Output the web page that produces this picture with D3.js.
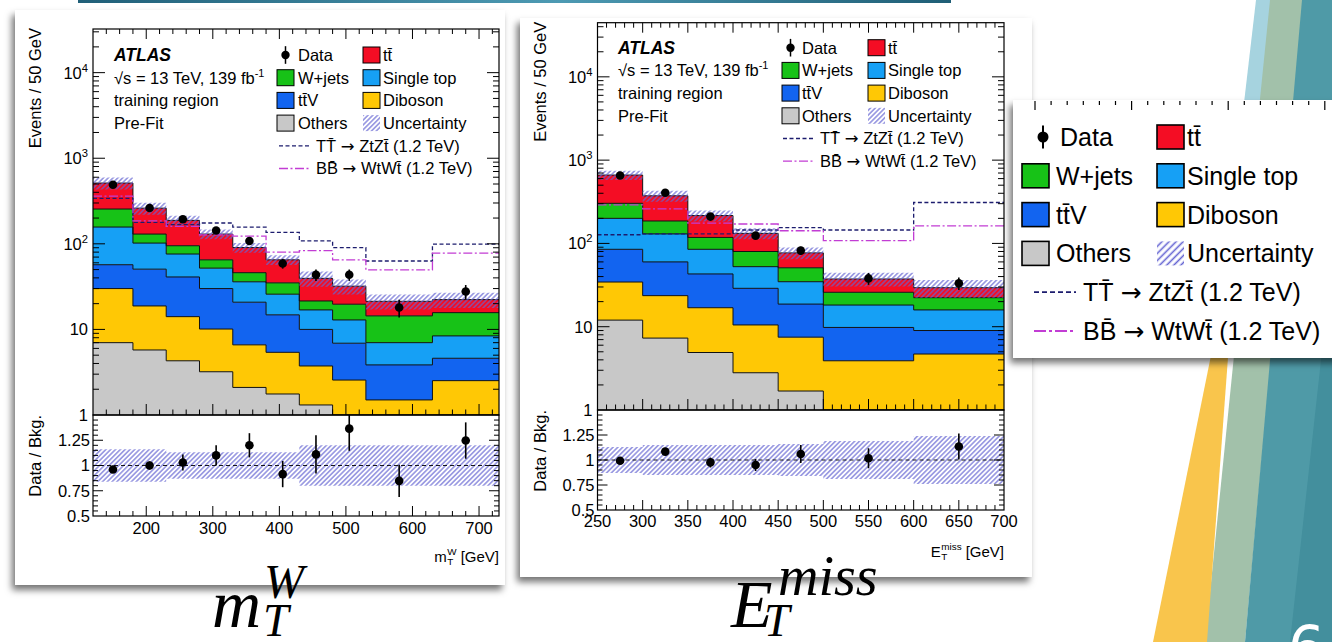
<!DOCTYPE html>
<html><head><meta charset="utf-8">
<script src="https://cdn.jsdelivr.net/npm/d3@7"></script>
<style>
html,body{margin:0;padding:0;background:#fff;overflow:hidden}
svg{display:block}
text{font-family:"Liberation Sans",Arial,Helvetica,sans-serif;fill:#000}
text.math{font-family:"Liberation Serif","Times New Roman",serif;font-style:italic}
tspan.arrow{font-family:"DejaVu Sans",sans-serif}
</style></head><body>
<svg id="slide" width="1332" height="642"></svg>
<script>
// ---------------- data: m_T^W distribution ----------------
const mtwEdges   = [120,180,230,280,330,380,430,480,530,630,730];
const mtwOthers  = [7.0, 5.75, 4.3, 3.2, 2.1, 1.76, 1.31, 0.6, 0.4, 0.5];
const mtwDiboson = [23.0, 13.05, 9.8, 6.9, 4.5, 3.64, 2.43, 1.96, 1.1, 2.02];
const mtwTtV     = [27.0, 31.8, 26.9, 19.9, 14.2, 9.4, 6.26, 4.34, 2.35, 2.08];
const mtwSingleT = [100, 51.4, 35, 22, 15.2, 11, 6.9, 6.0, 3.15, 3.8];
const mtwWjets   = [98, 28, 19, 13, 10, 9.2, 4.6, 6.8, 7.4, 7.3];
const mtwTtbar   = [258, 131, 93, 65, 44.5, 30, 18, 12.3, 6.9, 6.6];
const mtwData    = [490, 262, 194, 143, 108, 59, 43.5, 43.5, 18, 27.7];
const mtwDataErr = [22, 16, 14, 12, 10.4, 7.7, 6.6, 6.6, 4.2, 5.3];
const mtwUnc     = [0.16, 0.16, 0.13, 0.13, 0.13, 0.13, 0.2, 0.2, 0.2, 0.2];
const mtwRatio   = [0.96, 1.0, 1.03, 1.10, 1.20, 0.915, 1.11, 1.365, 0.848, 1.247];
const mtwRatioErr= [0.03, 0.04, 0.08, 0.1, 0.12, 0.13, 0.19, 0.22, 0.16, 0.18];
const mtwSigTT   = [340, 178, 168, 175, 157, 136, 108, 90.5, 63, 99];
const mtwSigBB   = [360, 185, 160, 127, 123, 80, 83.5, 65, 49.6, 78];

// ---------------- data: E_T^miss distribution ----------------
const metEdges   = [250,300,350,400,450,500,600,700];
const metOthers  = [12.0, 7.3, 4.9, 2.8, 1.69, 0.5, 0.5];
const metDiboson = [22.4, 16.3, 12.0, 7.7, 5.8, 3.4, 4.2];
const metTtV     = [50.6, 36.4, 26.1, 18.4, 11.2, 5.9, 4.3];
const metSingleT = [115, 70, 42, 23.7, 16, 8.4, 6.9];
const metWjets   = [103, 56, 33, 27.4, 16.3, 7.7, 6.4];
const metTtbar   = [359, 187, 98, 52, 26, 11.5, 7.1];
const metData    = [655, 405, 210, 124, 82, 38, 33.3];
const metDataErr = [26, 20, 14.5, 11, 9, 6.2, 5.8];
const metUnc     = [0.13, 0.15, 0.15, 0.15, 0.16, 0.19, 0.24];
const metRatio   = [0.993, 1.084, 0.976, 0.95, 1.06, 1.017, 1.135];
const metRatioErr= [0.02, 0.03, 0.05, 0.06, 0.09, 0.1, 0.13];
const metSigTT   = [127, 130, 130, 145, 155, 145, 310];
const metSigBB   = [290, 260, 175, 171, 142, 108, 162];

// ---------------- labels ----------------
const processKeys   = ["others","diboson","ttv","singletop","wjets","ttbar"];
const processColors = {ttbar:"#f40d24", wjets:"#17c217", singletop:"#16a0f5",
                       ttv:"#1264f0", diboson:"#ffc805", others:"#c8c8c8"};
const logTickExps   = [0,1,2,3,4];
const ratioTicks    = [0.5,0.75,1,1.25];
const ratioTickText = ["0.5","0.75","1","1.25"];
const mtwXTicks     = [200,300,400,500,600,700];
const metXTicks     = [250,300,350,400,450,500,550,600,650,700];
const sigTTColor = "#1c1c6e", sigBBColor = "#c23dd4", hatchColor = "#6464d2";

const svg = d3.select("#slide");
const defs = svg.append("defs");

// diagonal hatch used for the systematic uncertainty
const pat = defs.append("pattern").attr("id","hatch").attr("patternUnits","userSpaceOnUse")
  .attr("width",3.4).attr("height",3.4).attr("patternTransform","rotate(45)");
pat.append("line").attr("x1",1.7).attr("y1",-1).attr("x2",1.7).attr("y2",4.4)
  .attr("stroke",hatchColor).attr("stroke-width",1.1);
const patBig = defs.append("pattern").attr("id","hatchBig").attr("patternUnits","userSpaceOnUse")
  .attr("width",5).attr("height",5).attr("patternTransform","rotate(45)");
patBig.append("line").attr("x1",2.5).attr("y1",-1).attr("x2",2.5).attr("y2",6)
  .attr("stroke",hatchColor).attr("stroke-width",1.6);

const shadow = defs.append("filter").attr("id","shadow")
  .attr("x","-10%").attr("y","-10%").attr("width","120%").attr("height","120%");
shadow.append("feDropShadow").attr("dx",-3).attr("dy",5).attr("stdDeviation",3.5)
  .attr("flood-color","#000").attr("flood-opacity",0.55);

const topGrad = defs.append("linearGradient").attr("id","topbar");
[["0%","#205f78"],["55%","#4d9ab3"],["100%","#1f5e76"]].forEach(([o,c]) =>
  topGrad.append("stop").attr("offset",o).attr("stop-color",c));

// ---------------- slide background decoration ----------------
svg.append("rect").attr("x",78).attr("y",0).attr("width",873).attr("height",3).attr("fill","url(#topbar)");
const deco = svg.append("g");
deco.append("polygon").attr("points","1256,0 1274,0 1258,120 1242,120").attr("fill","#a6d3df");
deco.append("polygon").attr("points","1270,0 1304,0 1245,642 1205,642").attr("fill","#a2c1aa");
deco.append("polygon").attr("points","1302,0 1332,0 1332,642 1245,642").attr("fill","#4f9aa7");
deco.append("polygon").attr("points","1332,260 1332,642 1290,642").attr("fill","#438f9d");
deco.append("polygon").attr("points","1153,642 1207,642 1238,222").attr("fill","#f9c54c");
deco.append("text").attr("x",1288).attr("y",668).attr("font-size",58)
  .style("fill","#ffffff").style("font-family","'DejaVu Sans',sans-serif").text("6");

// ---------------- cards ----------------
svg.append("rect").attr("x",15).attr("y",10).attr("width",490).attr("height",575)
  .attr("fill","#fff").attr("filter","url(#shadow)");
svg.append("rect").attr("x",520).attr("y",18).attr("width",512).attr("height",559)
  .attr("fill","#fff").attr("filter","url(#shadow)");

// ---------------- helpers ----------------
function stepPoints(edges, vals) {
  const pts = vals.map((v,i) => [edges[i], v]);
  pts.push([edges[edges.length-1], vals[vals.length-1]]);
  return pts;
}
function supText(sel, base, sup, size) {
  sel.append("tspan").text(base);
  sel.append("tspan").attr("dy",-size*0.42).attr("font-size",size*0.68).text(sup);
}
// base with stacked super/subscript followed by a tail, right aligned at xEnd
function scriptLabel(g, xEnd, y, base, sup, sub, tail, size) {
  const grp = g.append("g");
  const b = grp.append("text").attr("x",0).attr("y",y).attr("font-size",size).text(base);
  const bw = b.node().getComputedTextLength();
  const s1 = grp.append("text").attr("x",bw+0.5).attr("y",y-size*0.45).attr("font-size",size*0.66).text(sup);
  const s2 = grp.append("text").attr("x",bw+0.5).attr("y",y+size*0.18).attr("font-size",size*0.66).text(sub);
  const sw = Math.max(s1.node().getComputedTextLength(), s2.node().getComputedTextLength());
  const t = grp.append("text").attr("x",bw+sw+size*0.3).attr("y",y).attr("font-size",size).text(tail);
  const total = bw + sw + size*0.3 + t.node().getComputedTextLength();
  grp.attr("transform",`translate(${xEnd-total},0)`);
}
// signal legend label: "XX̄ → ..." with a full-size arrow
function signalText(t, left, right) {
  t.append("tspan").text(left + " ");
  t.append("tspan").attr("class","arrow").text("\u2192");
  t.append("tspan").text(" " + right);
}

function drawPanel(p) {
  const f = p.frame;
  const g = svg.append("g");
  const x  = d3.scaleLinear().domain(p.xDomain).range([f.x0, f.x1]);
  const y  = d3.scaleLog().domain([1, p.yMax]).range([f.mid, f.top]).clamp(true);
  const yr = d3.scaleLinear().domain([0.5,1.5]).range([f.bot, f.mid]).clamp(true);
  const nb = p.edges.length - 1;
  const centers = d3.range(nb).map(i => (p.edges[i]+p.edges[i+1])/2);

  const cid = "clip" + p.id;
  defs.append("clipPath").attr("id",cid+"m").append("rect")
    .attr("x",f.x0).attr("y",f.top).attr("width",f.x1-f.x0).attr("height",f.mid-f.top);
  defs.append("clipPath").attr("id",cid+"r").append("rect")
    .attr("x",f.x0).attr("y",f.mid).attr("width",f.x1-f.x0).attr("height",f.bot-f.mid);

  // --- stacked backgrounds ---
  const rows = d3.range(nb).map(i => {
    const r = {}; processKeys.forEach(k => r[k] = p.series[k][i]); return r;
  });
  const stacked = d3.stack().keys(processKeys)(rows);
  const main = g.append("g").attr("clip-path",`url(#${cid}m)`);
  const area = d3.area().curve(d3.curveStepAfter)
    .x(d => x(d[0])).y0(d => y(Math.max(d[1],1e-3))).y1(d => y(Math.max(d[2],1e-3)));
  const line = d3.line().curve(d3.curveStepAfter).x(d => x(d[0])).y(d => y(Math.max(d[1],1e-3)));
  stacked.forEach(layer => {
    const pts = layer.map((d,i) => [p.edges[i], d[0], d[1]]);
    pts.push([p.edges[nb], layer[nb-1][0], layer[nb-1][1]]);
    main.append("path").attr("d",area(pts)).attr("fill",processColors[layer.key]);
  });
  stacked.forEach(layer => {
    main.append("path").attr("d",line(stepPoints(p.edges, layer.map(d => d[1]))))
      .attr("fill","none").attr("stroke","#111").attr("stroke-width",1);
  });
  const total = stacked[stacked.length-1].map(d => d[1]);

  // --- uncertainty band ---
  const band = stepPoints(p.edges, total).map((d,i) => [d[0], d[1]*(1-p.unc[Math.min(i,nb-1)]), d[1]*(1+p.unc[Math.min(i,nb-1)])]);
  main.append("path").attr("d",area(band)).attr("fill","url(#hatch)");

  // --- signal overlays ---
  main.append("path").attr("d",line(stepPoints(p.edges,p.sigTT))).attr("fill","none")
    .attr("stroke",sigTTColor).attr("stroke-width",1.3).attr("stroke-dasharray","4,2.5");
  main.append("path").attr("d",line(stepPoints(p.edges,p.sigBB))).attr("fill","none")
    .attr("stroke",sigBBColor).attr("stroke-width",1.3).attr("stroke-dasharray","9,2.5,2,2.5");

  // --- data ---
  centers.forEach((c,i) => {
    main.append("line").attr("x1",x(c)).attr("x2",x(c))
      .attr("y1",y(p.data[i]-p.dataErr[i])).attr("y2",y(p.data[i]+p.dataErr[i]))
      .attr("stroke","#000").attr("stroke-width",1.6);
    main.append("circle").attr("cx",x(c)).attr("cy",y(p.data[i])).attr("r",4.3).attr("fill","#000");
  });

  // --- ratio panel ---
  const ratio = g.append("g").attr("clip-path",`url(#${cid}r)`);
  const rArea = d3.area().curve(d3.curveStepAfter).x(d => x(d[0])).y0(d => yr(d[1])).y1(d => yr(d[2]));
  const rBand = stepPoints(p.edges, p.unc).map(d => [d[0], 1-d[1], 1+d[1]]);
  ratio.append("path").attr("d",rArea(rBand)).attr("fill","url(#hatch)");
  ratio.append("line").attr("x1",f.x0).attr("x2",f.x1).attr("y1",yr(1)).attr("y2",yr(1))
    .attr("stroke","#000").attr("stroke-width",0.9).attr("stroke-dasharray","4,3");
  centers.forEach((c,i) => {
    ratio.append("line").attr("x1",x(c)).attr("x2",x(c))
      .attr("y1",yr(p.ratio[i]-p.ratioErr[i])).attr("y2",yr(p.ratio[i]+p.ratioErr[i]))
      .attr("stroke","#000").attr("stroke-width",1.6);
    ratio.append("circle").attr("cx",x(c)).attr("cy",yr(p.ratio[i])).attr("r",4.3).attr("fill","#000");
  });

  // --- frames ---
  [[f.top,f.mid],[f.mid,f.bot]].forEach(([a,b]) =>
    g.append("rect").attr("x",f.x0).attr("y",a).attr("width",f.x1-f.x0).attr("height",b-a)
      .attr("fill","none").attr("stroke","#000").attr("stroke-width",1.2));

  // --- ticks ---
  const tk = g.append("g").attr("stroke","#000").attr("stroke-width",1);
  const tick = (x1,y1,x2,y2) => tk.append("line").attr("x1",x1).attr("y1",y1).attr("x2",x2).attr("y2",y2);
  const xs = d3.range(p.xDomain[0], p.xDomain[1]+0.01, p.xMinorStep);
  xs.forEach(v => {
    if (v <= p.xDomain[0] || v >= p.xDomain[1]) return;
    const major = p.xTicks.includes(v);
    const X = x(v);
    tick(X, f.top, X, f.top + (major?10:5));
    tick(X, f.mid, X, f.mid - (major?11:5.5));
    tick(X, f.bot, X, f.bot - (major?10:5));
  });
  logTickExps.forEach(e => {
    for (let k=1;k<=9;k++) {
      const v = k*Math.pow(10,e);
      if (v <= 1 || v >= p.yMax) continue;
      const Y = y(v), L = k===1?12:6;
      tick(f.x0, Y, f.x0+L, Y); tick(f.x1, Y, f.x1-L, Y);
    }
  });
  d3.range(0.55,1.5,0.05).forEach(v => {
    const major = ratioTicks.some(t => Math.abs(t-v)<1e-6);
    const Y = yr(v), L = major?10:5;
    tick(f.x0, Y, f.x0+L, Y); tick(f.x1, Y, f.x1-L, Y);
  });

  // --- tick labels ---
  const fs = 16.5;
  logTickExps.forEach(e => {
    const t = g.append("text").attr("x",f.x0-5).attr("y",y(Math.pow(10,e))).attr("dy","0.36em")
      .attr("text-anchor","end").attr("font-size",fs);
    if (e===0) t.text("1"); else if (e===1) t.text("10"); else supText(t,"10",String(e),fs);
  });
  ratioTicks.forEach((v,i) => {
    g.append("text").attr("x",f.x0-3).attr("y",yr(v)).attr("dy","0.36em")
      .attr("text-anchor","end").attr("font-size",fs).text(ratioTickText[i]);
  });
  p.xTicks.forEach(v => {
    g.append("text").attr("x",x(v)).attr("y",f.bot+p.xLabelDy).attr("text-anchor","middle")
      .attr("font-size",fs).text(v);
  });

  // --- axis titles ---
  g.append("text").attr("transform",`translate(${p.yTitleX},${f.top-1}) rotate(-90)`)
    .attr("text-anchor","end").attr("font-size",fs).text("Events / 50 GeV");
  g.append("text").attr("transform",`translate(${p.yTitleX},${f.mid}) rotate(-90)`)
    .attr("text-anchor","end").attr("font-size",fs).text("Data / Bkg.");
  scriptLabel(g, f.x1, p.xTitleY, p.xTitle[0], p.xTitle[1], p.xTitle[2], " [GeV]", 15);

  // --- legend ---
  drawLegend(g, p.legend, 16.5, 22.7, [17,16], "url(#hatch)", 4.2);
}

function drawLegend(g, L, fs, rowH, box, hatch, r) {
  const rowY = i => L.y0 + i*rowH;
  if (L.atlas) {
    g.append("text").attr("x",L.atlas).attr("y",rowY(0)).attr("dy","0.36em").attr("font-size",fs+1)
      .attr("font-weight","bold").attr("font-style","italic").text("ATLAS");
    const t = g.append("text").attr("x",L.atlas).attr("y",rowY(1)).attr("dy","0.36em").attr("font-size",fs);
    t.append("tspan").text("\u221As = 13 TeV, 139 fb");
    t.append("tspan").attr("dy",-fs*0.42).attr("font-size",fs*0.66).text("-1");
    g.append("text").attr("x",L.atlas).attr("y",rowY(2)).attr("dy","0.36em").attr("font-size",fs).text("training region");
    g.append("text").attr("x",L.atlas).attr("y",rowY(3)).attr("dy","0.36em").attr("font-size",fs).text("Pre-Fit");
  }
  const big = fs > 20;
  const boxEntry = (bx, tx, row, fill, label) => {
    g.append("rect").attr("x",bx).attr("y",rowY(row)-box[1]/2).attr("width",box[0]).attr("height",box[1])
      .attr("fill",fill).attr("stroke","#000").attr("stroke-width",big?1.6:1);
    g.append("text").attr("x",tx).attr("y",rowY(row)).attr("dy","0.36em").attr("font-size",fs).text(label);
  };
  // data marker
  g.append("line").attr("x1",L.marker).attr("x2",L.marker).attr("y1",rowY(0)-r*2.1).attr("y2",rowY(0)+r*2.1)
    .attr("stroke","#000").attr("stroke-width",big?2:1.5);
  g.append("circle").attr("cx",L.marker).attr("cy",rowY(0)).attr("r",r).attr("fill","#000");
  g.append("text").attr("x",L.dataText).attr("y",rowY(0)).attr("dy","0.36em").attr("font-size",fs).text("Data");
  boxEntry(L.c2box, L.c2text, 0, processColors.ttbar, "tt\u0304");
  boxEntry(L.c1box, L.c1text, 1, processColors.wjets, "W+jets");
  boxEntry(L.c2box, L.c2text, 1, processColors.singletop, "Single top");
  boxEntry(L.c1box, L.c1text, 2, processColors.ttv, "tt\u0304V");
  boxEntry(L.c2box, L.c2text, 2, processColors.diboson, "Diboson");
  boxEntry(L.c1box, L.c1text, 3, processColors.others, "Others");
  g.append("rect").attr("x",L.c2box).attr("y",rowY(3)-box[1]/2).attr("width",box[0]).attr("height",box[1]).attr("fill",hatch);
  g.append("text").attr("x",L.c2text).attr("y",rowY(3)).attr("dy","0.36em").attr("font-size",fs).text("Uncertainty");
  g.append("line").attr("x1",L.line[0]).attr("x2",L.line[1]).attr("y1",rowY(4)).attr("y2",rowY(4))
    .attr("stroke",sigTTColor).attr("stroke-width",big?1.8:1.3).attr("stroke-dasharray",big?"5,3":"4,2.5");
  signalText(g.append("text").attr("x",L.lineText).attr("y",rowY(4)).attr("dy","0.36em").attr("font-size",fs),
    "TT\u0304", "ZtZt\u0304 (1.2 TeV)");
  g.append("line").attr("x1",L.line[0]).attr("x2",L.line[1]).attr("y1",rowY(5)).attr("y2",rowY(5))
    .attr("stroke",sigBBColor).attr("stroke-width",big?1.8:1.3).attr("stroke-dasharray",big?"12,3,3,3":"9,2.5,2,2.5");
  signalText(g.append("text").attr("x",L.lineText).attr("y",rowY(5)).attr("dy","0.36em").attr("font-size",fs),
    "BB\u0304", "WtWt\u0304 (1.2 TeV)");
}

drawPanel({
  id:"mtw", edges: mtwEdges,
  series:{others:mtwOthers, diboson:mtwDiboson, ttv:mtwTtV, singletop:mtwSingleT, wjets:mtwWjets, ttbar:mtwTtbar},
  data: mtwData, dataErr: mtwDataErr, unc: mtwUnc, ratio: mtwRatio, ratioErr: mtwRatioErr,
  sigTT: mtwSigTT, sigBB: mtwSigBB,
  frame:{x0:93, x1:499, top:29, mid:415, bot:516},
  xDomain:[120,730], yMax: Math.pow(10,4.51), xTicks: mtwXTicks, xMinorStep: 20,
  xLabelDy: 18, yTitleX: 41, xTitleY: 562, xTitle:["m","W","T"],
  legend:{y0:55, atlas:114, marker:285.5, dataText:298, c1box:277, c1text:298, c2box:363, c2text:383,
          line:[279,309], lineText:316}
});
drawPanel({
  id:"met", edges: metEdges,
  series:{others:metOthers, diboson:metDiboson, ttv:metTtV, singletop:metSingleT, wjets:metWjets, ttbar:metTtbar},
  data: metData, dataErr: metDataErr, unc: metUnc, ratio: metRatio, ratioErr: metRatioErr,
  sigTT: metSigTT, sigBB: metSigBB,
  frame:{x0:597.5, x1:1004, top:22.7, mid:410, bot:510},
  xDomain:[250,700], yMax: Math.pow(10,4.65), xTicks: metXTicks, xMinorStep: 10,
  xLabelDy: 17, yTitleX: 546, xTitleY: 557, xTitle:["E","miss","T"],
  legend:{y0:47.7, atlas:618, marker:790.5, dataText:802, c1box:782, c1text:802, c2box:868, c2text:888,
          line:[783,815], lineText:820}
});

// ---------------- enlarged legend inset ----------------
const inset = svg.append("g");
inset.append("rect").attr("x",1013).attr("y",100).attr("width",330).attr("height",258)
  .attr("fill","#fff").attr("filter","url(#shadow)");
const itk = inset.append("g").attr("stroke","#000").attr("stroke-width",1.2);
d3.range(0,20).forEach(i => {
  const X = 1035 + i*16.1;
  if (X > 1332) return;
  itk.append("line").attr("x1",X).attr("x2",X).attr("y1",101).attr("y2",i%6===0?110:105);
});
drawLegend(inset, {y0:137, marker:1043, dataText:1060, c1box:1022, c1text:1056, c2box:1157, c2text:1187,
                   line:[1034,1076], lineText:1083}, 25, 38.8, [27,24], "url(#hatchBig)", 5.5);

// ---------------- slide captions ----------------
const cap = svg.append("g");
const mathText = (x, y, size, s) => cap.append("text").attr("class","math")
  .attr("x",x).attr("y",y).attr("font-size",size).text(s);
mathText(212, 627, 68, "m");
mathText(264, 598, 48, "W");
mathText(263, 636, 46, "T");
mathText(731, 627, 68, "E");
mathText(778, 595, 56, "miss");
mathText(764, 636, 46, "T");
</script>
</body></html>
